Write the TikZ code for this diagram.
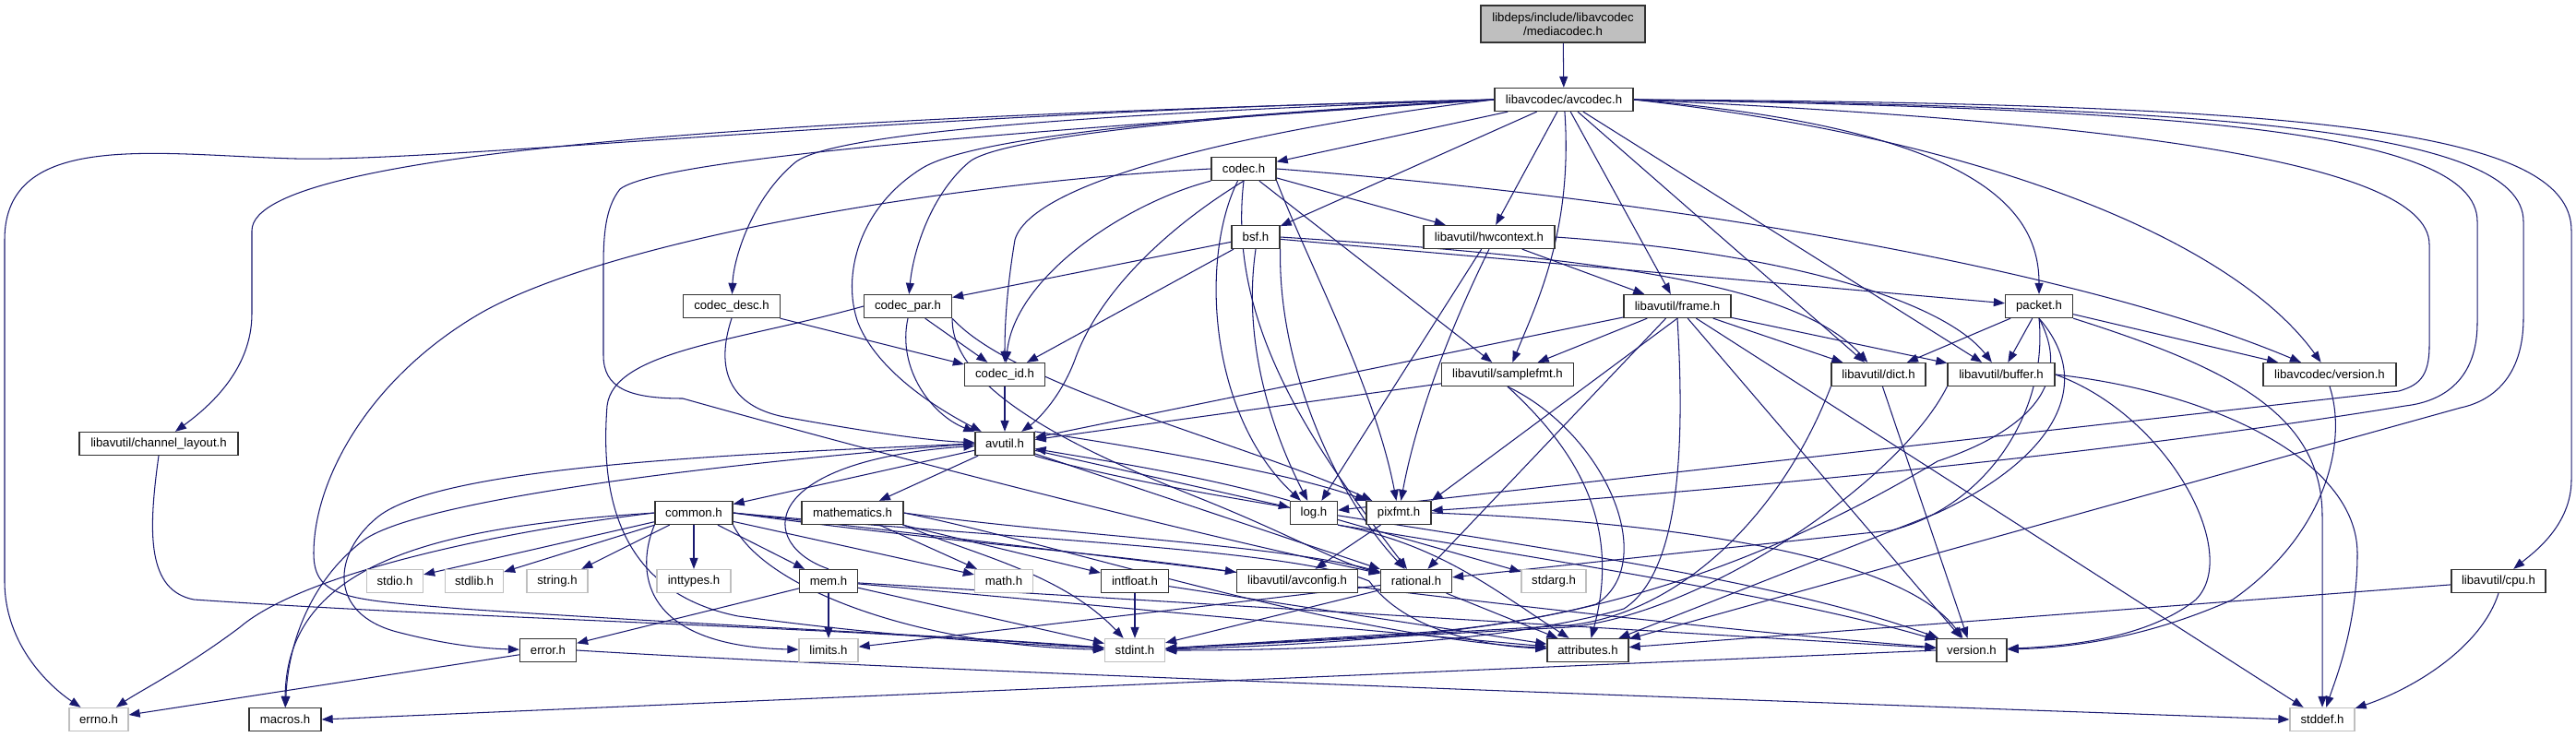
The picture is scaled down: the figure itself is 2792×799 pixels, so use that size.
\documentclass[tikz,border=0pt]{standalone}
\usepackage{fontspec}
\setmainfont{Liberation Sans}
\usetikzlibrary{arrows.meta}
\definecolor{edgec}{HTML}{191970}
\definecolor{sysc}{HTML}{BFBFBF}
\definecolor{boxc}{HTML}{333333}
\pgfdeclarelayer{bgl}
\pgfdeclarelayer{edges}
\pgfsetlayers{bgl,edges,main}
\tikzset{
  nb/.style={draw=boxc, line width=1.3pt, fill=white, inner sep=0pt, minimum height=25pt, font=\fontsize{13.2pt}{15pt}\selectfont},
  ns/.style={nb, draw=sysc},
  e/.style={draw=edgec, line width=1.05pt, -{Triangle[length=12pt,width=9pt]}},
}
\begin{document}
\begin{tikzpicture}[x=1pt,y=-1pt]
\begin{pgfonlayer}{bgl}
\fill[white] (0,0) rectangle (2792,799);
\end{pgfonlayer}
\useasboundingbox (0,0) rectangle (2792,799);
% nodes
\node[nb, fill=sysc, minimum width=178pt, minimum height=40pt, align=center] (mc) at (1694,26) {libdeps/include/libavcodec\\/mediacodec.h};
\node[nb, minimum width=150pt] (avc) at (1695,108) {libavcodec/avcodec.h};
\node[nb, minimum width=70pt] (codec) at (1348,183) {codec.h};
\node[nb, minimum width=142pt] (hw) at (1614,257) {libavutil/hwcontext.h};
\node[nb, minimum width=52pt] (bsf) at (1361,257) {bsf.h};
\node[nb, minimum width=105pt] (cdesc) at (793,332) {codec\_desc.h};
\node[nb, minimum width=95pt] (cpar) at (984,332) {codec\_par.h};
\node[nb, minimum width=116pt] (frame) at (1818,332) {libavutil/frame.h};
\node[nb, minimum width=73pt] (packet) at (2210,332) {packet.h};
\node[nb, minimum width=87pt] (cid) at (1089,406) {codec\_id.h};
\node[nb, minimum width=143pt] (sfmt) at (1634,406) {libavutil/samplefmt.h};
\node[nb, minimum width=102pt] (dict) at (2036,406) {libavutil/dict.h};
\node[nb, minimum width=116pt] (buf) at (2169,406) {libavutil/buffer.h};
\node[nb, minimum width=144pt] (lver) at (2525,406) {libavcodec/version.h};
\node[nb, minimum width=172pt] (chl) at (172,481) {libavutil/channel\_layout.h};
\node[nb, minimum width=64pt] (avu) at (1089,481) {avutil.h};
\node[nb, minimum width=84pt] (common) at (752,556) {common.h};
\node[nb, minimum width=110pt] (mathh) at (924,556) {mathematics.h};
\node[nb, minimum width=51pt] (logh) at (1424,556) {log.h};
\node[nb, minimum width=70pt] (pix) at (1516,556) {pixfmt.h};
\node[ns, minimum width=61pt] (stdio) at (428,630) {stdio.h};
\node[ns, minimum width=63pt] (stdlib) at (514,630) {stdlib.h};
\node[ns, minimum width=66pt] (strh) at (604,630) {string.h};
\node[ns, minimum width=80pt] (inttypes) at (752,630) {inttypes.h};
\node[nb, minimum width=63pt] (mem) at (898,630) {mem.h};
\node[ns, minimum width=63pt] (mathsys) at (1088,630) {math.h};
\node[nb, minimum width=73pt] (intfloat) at (1230,630) {intfloat.h};
\node[nb, minimum width=131pt] (avcfg) at (1406,630) {libavutil/avconfig.h};
\node[nb, minimum width=77pt] (rat) at (1535,630) {rational.h};
\node[ns, minimum width=70pt] (stdarg) at (1684,630) {stdarg.h};
\node[nb, minimum width=102pt] (cpu) at (2708,630) {libavutil/cpu.h};
\node[nb, minimum width=61pt] (err) at (594,705) {error.h};
\node[ns, minimum width=64pt] (limits) at (898,705) {limits.h};
\node[ns, minimum width=65pt] (stdint) at (1230,705) {stdint.h};
\node[nb, minimum width=88pt] (attr) at (1721,705) {attributes.h};
\node[nb, minimum width=76pt] (ver) at (2137,705) {version.h};
\node[ns, minimum width=64pt] (errno) at (107,780) {errno.h};
\node[nb, minimum width=78pt] (macros) at (309,780) {macros.h};
\node[ns, minimum width=70pt] (stddef) at (2517,780) {stddef.h};

\begin{pgfonlayer}{edges}
\draw[e] (mc) -- (avc);
% avcodec.h
\draw[e] (avc.west) .. controls (1000,120) and (480,176) .. (320,172) .. controls (170,168) and (5,140) .. (5,260) -- (5,630) .. controls (5,700) and (55,745) .. (errno);
\draw[e] (avc.west) .. controls (900,126) and (273,160) .. (273,250) -- (273,340) .. controls (273,400) and (228,440) .. (chl);
\draw[e] (avc.west) .. controls (1150,124) and (900,146) .. (862,176) .. controls (815,215) and (795,280) .. (cdesc);
\draw[e] (avc.west) .. controls (1300,126) and (1080,150) .. (1050,176) .. controls (1010,210) and (990,270) .. (cpar);
\draw[e] (avc.west) .. controls (1250,128) and (1050,152) .. (1000,182) .. controls (930,225) and (912,300) .. (930,350) .. controls (950,400) and (1010,440) .. (avu);
\draw[e] (avc.west) .. controls (1400,134) and (1120,190) .. (1100,260) .. controls (1090,320) and (1089,360) .. (cid);
\draw[e] (avc.west) .. controls (1200,136) and (720,168) .. (672,205) .. controls (656,225) and (654,255) .. (654,290) -- (654,385) .. controls (654,420) and (680,432) .. (740,432) .. controls (1000,505) and (1300,580) .. (rat);
\draw[e] (avc) -- (codec);
\draw[e] (avc) -- (bsf);
\draw[e] (avc) -- (hw);
\draw[e] (avc) .. controls (1705,250) and (1665,330) .. (sfmt);
\draw[e] (avc) -- (frame);
\draw[e] (avc) -- (dict);
\draw[e] (avc) -- (buf);
\draw[e] (avc.east) .. controls (2150,140) and (2210,230) .. (packet);
\draw[e] (avc.east) .. controls (2150,150) and (2420,260) .. (lver);
\draw[e] (avc.east) .. controls (2500,112) and (2787,140) .. (2787,250) -- (2787,520) .. controls (2787,570) and (2745,600) .. (cpu);
\draw[e] (avc.east) .. controls (2250,130) and (2633,170) .. (2633,265) -- (2633,375) .. controls (2633,410) and (2620,418) .. (2600,424) -- (logh);
\draw[e] (avc.east) .. controls (2350,118) and (2685,140) .. (2685,240) -- (2685,350) .. controls (2685,410) and (2650,435) .. (2607,440) .. controls (2300,490) and (1900,530) .. (pix);
\draw[e] (avc.east) .. controls (2400,116) and (2735,140) .. (2735,240) -- (2735,345) .. controls (2735,410) and (2700,435) .. (2667,442) -- (attr);
% codec.h
\draw[e] (codec.west) .. controls (1000,200) and (650,265) .. (520,340) .. controls (400,410) and (340,520) .. (340,600) .. controls (340,650) and (380,650) .. (500,660) .. controls (800,680) and (1050,690) .. (stdint);
\draw[e] (codec.south) .. controls (1260,250) and (1190,320) .. (1165,390) .. controls (1150,430) and (1125,455) .. (avu);
\draw[e] (codec) -- (hw);
\draw[e] (codec) .. controls (1300,280) and (1310,450) .. (logh);
\draw[e] (codec.south east) .. controls (1420,290) and (1490,420) .. (pix);
\draw[e] (codec) -- (sfmt);
\draw[e] (codec.south west) .. controls (1220,220) and (1100,300) .. (cid);
\draw[e] (codec.east) .. controls (1800,215) and (2250,290) .. (lver);
\draw[e] (codec.south) .. controls (1330,350) and (1420,480) .. (rat);
% bsf.h
\draw[e] (bsf) -- (cpar);
\draw[e] (bsf) -- (cid);
\draw[e] (bsf) -- (packet);
\draw[e] (bsf.east) .. controls (1750,280) and (1950,310) .. (dict);
\draw[e] (bsf.south) .. controls (1345,380) and (1385,480) .. (logh);
\draw[e] (bsf.south east) .. controls (1385,400) and (1450,540) .. (rat);
% hwcontext.h
\draw[e] (hw.east) .. controls (1950,275) and (2110,330) .. (buf);
\draw[e] (hw) -- (frame);
\draw[e] (hw) -- (logh);
\draw[e] (hw.south) .. controls (1555,390) and (1530,480) .. (pix);
% codec_desc.h / codec_par.h / codec_id.h
\draw[e] (cdesc) -- (cid);
\draw[e] (cdesc.south) .. controls (775,400) and (790,440) .. (850,452) .. controls (950,470) and (1010,478) .. (avu);
\draw[e] (cpar) -- (cid);
\draw[e] (cpar.south) .. controls (972,400) and (1010,450) .. (avu);
\draw[e] (cpar.west) .. controls (800,370) and (665,380) .. (658,440) .. controls (652,520) and (660,640) .. (800,668) .. controls (1000,695) and (1150,700) .. (stdint);
\draw[e] (cpar.south east) .. controls (1030,430) and (1200,500) .. (1300,540) .. controls (1400,580) and (1450,610) .. (rat);
\draw[e] (cpar.south east) .. controls (1100,420) and (1350,480) .. (pix);
\draw[e] (cid) -- (avu);
% frame.h
\draw[e] (frame) -- (avu);
\draw[e] (frame) -- (sfmt);
\draw[e] (frame.south) -- (pix.north east);
\draw[e] (frame) -- (rat);
\draw[e] (frame.south) .. controls (1826,480) and (1822,620) .. (1760,660) .. controls (1620,700) and (1400,705) .. (stdint);
\draw[e] (frame) -- (stddef);
\draw[e] (frame) -- (ver);
\draw[e] (frame) -- (buf);
\draw[e] (frame) -- (dict);
% packet.h
\draw[e] (packet) -- (buf);
\draw[e] (packet) -- (dict);
\draw[e] (packet) -- (lver);
\draw[e] (packet.south) .. controls (2220,450) and (2150,550) .. (2050,575) -- (rat);
\draw[e] (packet.south east) .. controls (2420,400) and (2517,450) .. (2517,560) -- (stddef);
\draw[e] (packet.south) .. controls (2275,420) and (2220,500) .. (2100,556) -- (attr);
\draw[e] (packet.south) .. controls (2250,420) and (2190,470) .. (2100,500) .. controls (1900,620) and (1700,680) .. (1500,688) -- (stdint);
% samplefmt.h, dict.h, buffer.h, version
\draw[e] (sfmt) -- (avu);
\draw[e] (sfmt.south) .. controls (1700,480) and (1760,560) .. (attr);
\draw[e] (sfmt.south) .. controls (1740,470) and (1800,610) .. (1730,655) .. controls (1600,690) and (1400,700) .. (stdint);
\draw[e] (dict.south west) .. controls (1930,560) and (1820,665) .. (1700,678) -- (stdint);
\draw[e] (dict) -- (ver);
\draw[e] (buf.south west) .. controls (2060,520) and (1850,665) .. (1700,680) -- (stdint);
\draw[e] (buf.east) .. controls (2350,450) and (2430,600) .. (2380,650) .. controls (2330,690) and (2250,700) .. (ver);
\draw[e] (buf.east) .. controls (2400,425) and (2555,500) .. (2555,600) .. controls (2555,680) and (2530,740) .. (stddef);
\draw[e] (lver.south) .. controls (2545,480) and (2520,580) .. (2420,650) .. controls (2330,690) and (2250,702) .. (ver);
\draw[e] (cpu.south) .. controls (2690,700) and (2620,745) .. (stddef);
\draw[e] (cpu) -- (attr);
% avutil.h
\draw[e] (avu) -- (common);
\draw[e] (avu) -- (mathh);
\draw[e] (avu) -- (logh);
\draw[e] (avu.north east) .. controls (1300,495) and (1420,520) .. (pix);
\draw[e] (avu) -- (rat);
\draw[e] (avu.south east) .. controls (1350,560) and (1850,600) .. (ver);
\draw[e] (avu.west) .. controls (800,492) and (480,505) .. (410,560) .. controls (360,600) and (355,665) .. (430,685) .. controls (480,698) and (520,703) .. (err);
\draw[e] (avu.west) .. controls (800,500) and (460,540) .. (395,585) .. controls (335,630) and (312,700) .. (macros);
% common.h
\draw[e] (common) -- (stdio);
\draw[e] (common) -- (stdlib);
\draw[e] (common) -- (strh);
\draw[e] (common) -- (inttypes);
\draw[e] (common) -- (mem);
\draw[e] (common) -- (mathsys);
\draw[e] (common.south west) .. controls (690,615) and (690,700) .. (limits);
\draw[e] (common.south east) .. controls (830,640) and (1000,700) .. (stdint);
\draw[e] (common.west) .. controls (550,575) and (330,620) .. (260,680) .. controls (200,725) and (150,750) .. (errno);
\draw[e] (common.west) .. controls (500,570) and (310,600) .. (macros);
\draw[e] (common.east) .. controls (1100,585) and (1400,595) .. (1484,630) .. controls (1520,680) and (1600,700) .. (attr);
\draw[e] (common.east) .. controls (1000,585) and (1200,600) .. (avcfg);
\draw[e] (common.east) .. controls (1200,600) and (1700,670) .. (ver);
% mathematics.h
\draw[e] (mathh) -- (mathsys);
\draw[e] (mathh) -- (intfloat);
\draw[e] (mathh.south east) .. controls (1050,600) and (1150,620) .. (stdint);
\draw[e] (mathh.east) .. controls (1150,580) and (1380,590) .. (rat);
\draw[e] (mathh.east) .. controls (1150,590) and (1450,690) .. (attr);
% log.h, pixfmt.h
\draw[e] (logh) -- (stdarg);
\draw[e] (logh.north west) .. controls (1300,515) and (1200,500) .. (avu);
\draw[e] (logh.south east) .. controls (1560,590) and (1620,640) .. (attr);
\draw[e] (logh.south east) .. controls (1700,610) and (1950,650) .. (ver);
\draw[e] (pix) -- (avcfg);
\draw[e] (pix.east) .. controls (1800,565) and (2060,600) .. (ver);
% mem.h
\draw[e] (mem) -- (limits);
\draw[e] (mem) -- (err);
\draw[e] (mem) -- (stdint);
\draw[e] (mem) -- (attr);
\draw[e] (mem) -- (ver);
\draw[e] (mem.north) .. controls (820,590) and (820,500) .. (avu);
% intfloat, rational, error, version, channel_layout
\draw[e] (intfloat) -- (stdint);
\draw[e] (intfloat) -- (attr);
\draw[e] (rat) -- (stdint);
\draw[e] (rat) -- (limits);
\draw[e] (rat) -- (attr);
\draw[e] (err) -- (errno);
\draw[e] (err.east) .. controls (900,722) and (1500,745) .. (stddef.west);
\draw[e] (ver.west) -- (macros.east);
\draw[e] (chl.south) .. controls (160,580) and (160,640) .. (210,650) .. controls (500,670) and (900,680) .. (stdint);
\end{pgfonlayer}
\end{tikzpicture}
\end{document}
